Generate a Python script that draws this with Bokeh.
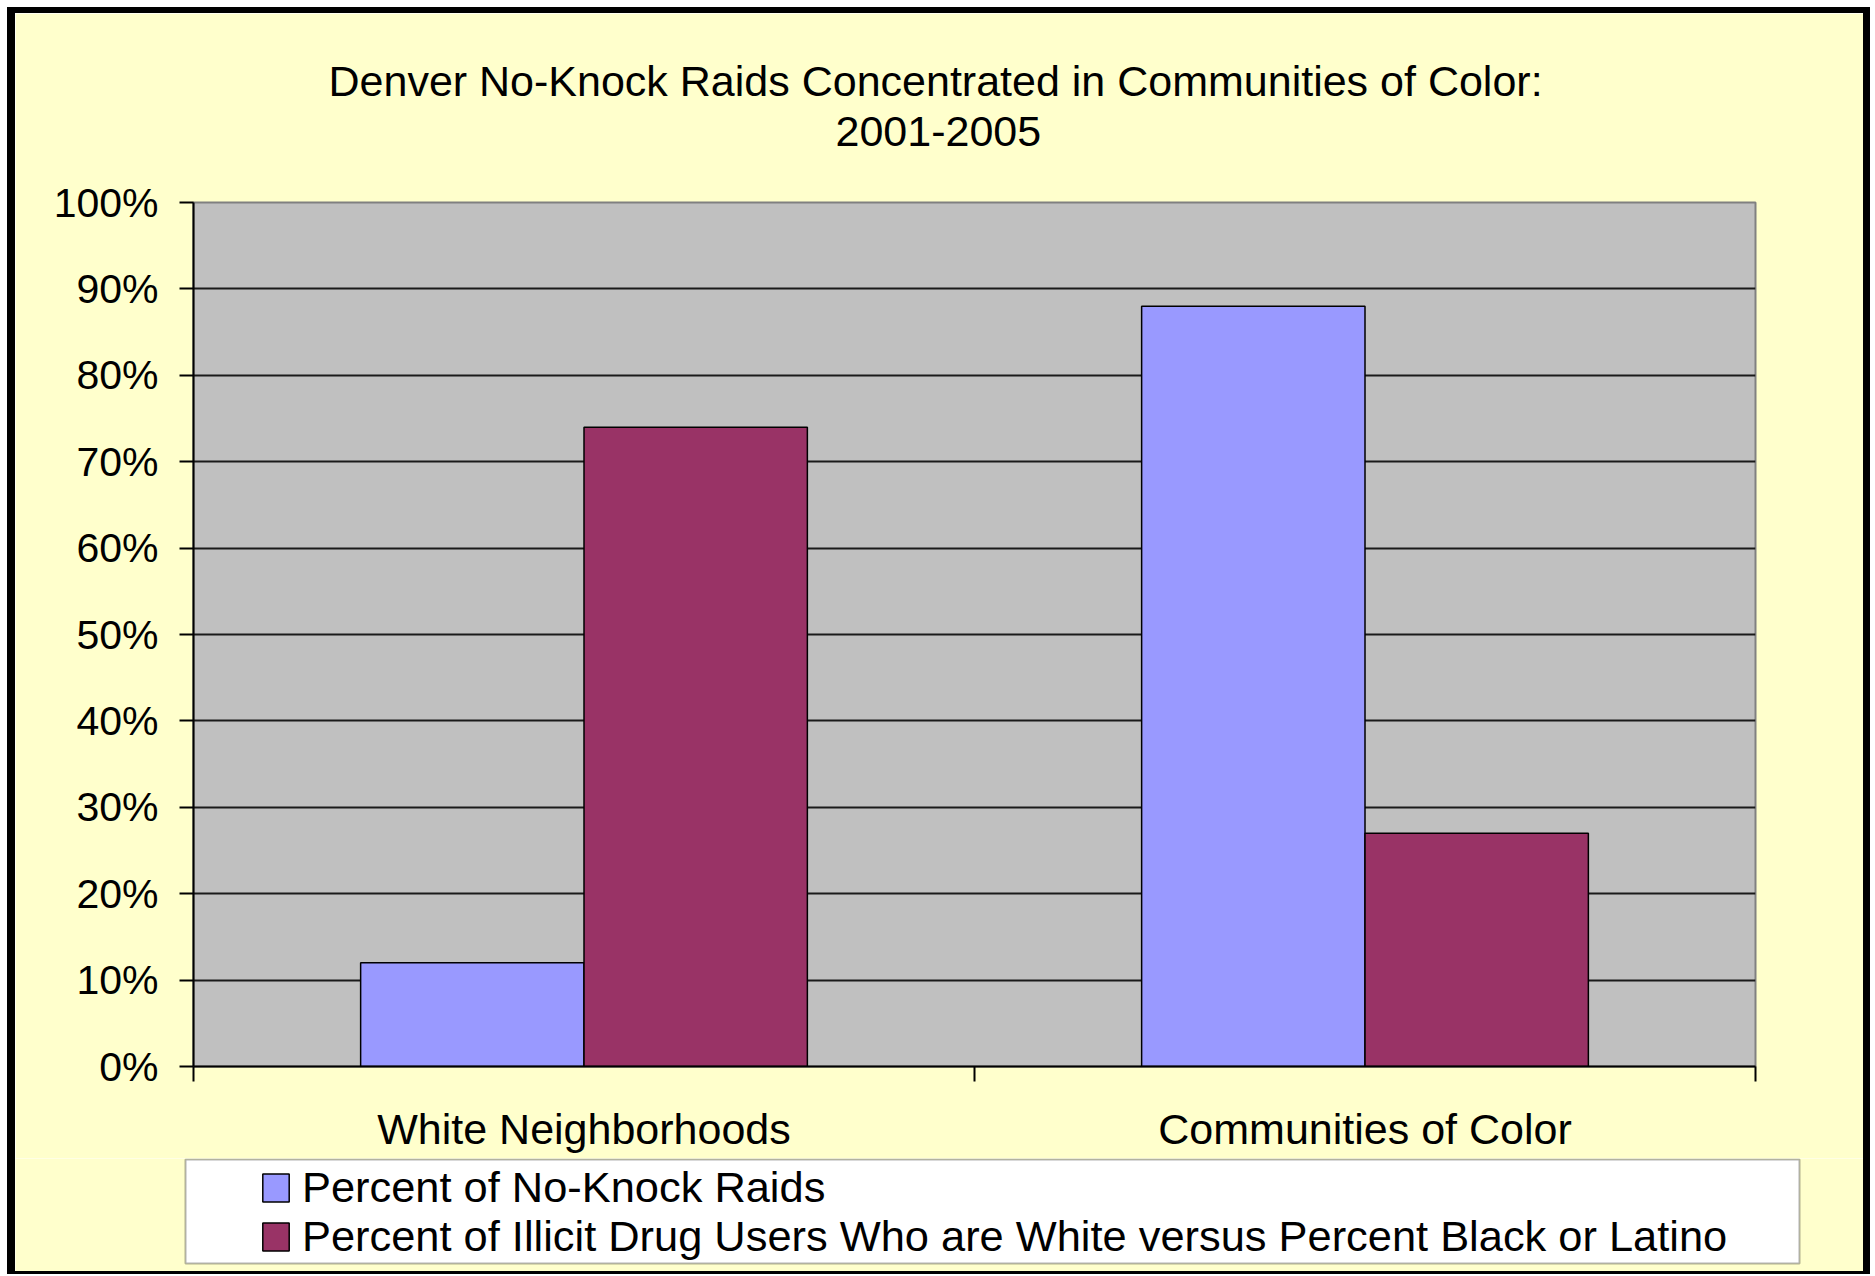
from bokeh.plotting import figure
from bokeh.layouts import column
from bokeh.models import (ColumnDataSource, FixedTicker, NumeralTickFormatter, Title,
                          Legend, LegendItem, Range1d, BoxAnnotation)
from bokeh.transform import dodge
from bokeh.embed import file_html
from bokeh.resources import INLINE

# ---- data ----
categories = ["White Neighborhoods", "Communities of Color"]
pct_no_knock_raids = [0.12, 0.88]
pct_drug_users = [0.74, 0.27]
series_names = ["Percent of No-Knock Raids",
                "Percent of Illicit Drug Users Who are White versus Percent Black or Latino"]
y_ticks = [0.0, 0.1, 0.2, 0.3, 0.4, 0.5, 0.6, 0.7, 0.8, 0.9, 1.0]
title_lines = ["Denver No-Knock Raids Concentrated in Communities of Color:", "2001-2005"]

FONT = "Liberation Sans"
YELLOW = "#FFFFCC"
BLUE = "#9999FF"
PLUM = "#993366"

centers = [i + 0.5 for i in range(len(categories))]
src = ColumnDataSource(dict(x=centers, cat=categories,
                            raids=pct_no_knock_raids, users=pct_drug_users))

W = 1863
p = figure(width=W, height=1151, output_backend="svg", toolbar_location=None,
           x_range=Range1d(0, len(categories)), y_range=Range1d(0, 1),
           title=title_lines[0],
           min_border_left=178, min_border_right=123, min_border_top=189, min_border_bottom=98)
p.frame_align = False
p.styles = {"border-style": "solid", "border-color": "black",
            "border-width": "6px 7px 0px 8px"}

p.background_fill_color = "#C0C0C0"
p.border_fill_color = YELLOW
p.outline_line_color = "#808080"
p.outline_line_width = 2

bw = 0.286
r1 = p.vbar(x=dodge("x", -0.143, range=p.x_range), top="raids", width=bw, bottom=0,
            source=src, fill_color=BLUE, line_color="black", line_width=1.5)
r2 = p.vbar(x=dodge("x", 0.143, range=p.x_range), top="users", width=bw, bottom=0,
            source=src, fill_color=PLUM, line_color="black", line_width=1.5)

# y axis
p.yaxis.ticker = FixedTicker(ticks=y_ticks)
p.yaxis.formatter = NumeralTickFormatter(format="0%")
p.yaxis.major_label_text_font = FONT
p.yaxis.major_label_text_font_size = "41px"
p.yaxis.major_label_text_color = "black"
p.yaxis.major_tick_out = 14
p.yaxis.major_tick_in = 0
p.yaxis.minor_tick_line_color = None
p.yaxis.major_label_standoff = 21
p.yaxis.axis_line_color = "black"
p.yaxis.axis_line_width = 2
p.yaxis.major_tick_line_color = "black"
p.yaxis.major_tick_line_width = 2

# x axis
p.xaxis.ticker = FixedTicker(ticks=centers, minor_ticks=[0, 1, 2])
p.xaxis.major_label_overrides = {c: n for c, n in zip(centers, categories)}
p.xaxis.major_label_text_font = FONT
p.xaxis.major_label_text_font_size = "43px"
p.xaxis.major_label_text_color = "black"
p.xaxis.major_tick_out = 0
p.xaxis.major_tick_in = 0
p.xaxis.major_tick_line_color = None
p.xaxis.minor_tick_out = 15
p.xaxis.minor_tick_in = 0
p.xaxis.minor_tick_line_color = "black"
p.xaxis.minor_tick_line_width = 2
p.xaxis.major_label_standoff = 23
p.xaxis.axis_line_color = "black"
p.xaxis.axis_line_width = 2

p.xgrid.grid_line_color = None
p.ygrid.ticker = FixedTicker(ticks=y_ticks[1:-1])
p.ygrid.grid_line_color = "#1a1a1a"
p.ygrid.grid_line_width = 2

# titles
p.title.align = "left"
p.title.offset = 135
p.title.text_font = FONT
p.title.text_font_size = "43px"
p.title.text_font_style = "normal"
p.title.text_color = "black"
p.title.standoff = -93
p.add_layout(Title(text=title_lines[1], align="left", offset=642, text_font=FONT,
                   text_font_size="43px", text_font_style="normal", text_color="black",
                   standoff=113), "above")

# ---- legend strip ----
LH = 116
lg = figure(width=W, height=LH, output_backend="svg", toolbar_location=None,
            x_range=Range1d(0, W), y_range=Range1d(0, LH),
            x_axis_location=None, y_axis_location=None,
            min_border_left=0, min_border_right=0, min_border_top=0, min_border_bottom=0)
lg.frame_align = False
lg.styles = {"border-style": "solid", "border-color": "black",
             "border-width": "0px 7px 3px 8px"}
lg.background_fill_color = YELLOW
lg.border_fill_color = YELLOW
lg.outline_line_color = None
lg.grid.visible = False

g1 = lg.vbar(x="x", top="raids", width=bw, source=src, fill_color=BLUE,
             line_color="black", line_width=1.5, visible=False)
g2 = lg.vbar(x="x", top="users", width=bw, source=src, fill_color=PLUM,
             line_color="black", line_width=1.5, visible=False)

lg.add_layout(BoxAnnotation(left=170, right=1784, bottom=11, top=115,
                            fill_color="white", fill_alpha=1.0,
                            line_color="black", line_width=2))

legend = Legend(items=[LegendItem(label=series_names[0], renderers=[g1]),
                       LegendItem(label=series_names[1], renderers=[g2])],
                location=(240, 9), orientation="vertical",
                padding=4, spacing=0, margin=0,
                glyph_width=33, glyph_height=35, label_height=48, label_standoff=10,
                label_text_font=FONT, label_text_font_size="43.4px", label_text_color="black",
                border_line_alpha=0, background_fill_alpha=0,
                inactive_fill_alpha=0)
lg.add_layout(legend, "center")

layout = column(p, lg, spacing=0, margin=(7, 0, 0, 7))

open("out.html", "w").write(file_html(layout, INLINE))
